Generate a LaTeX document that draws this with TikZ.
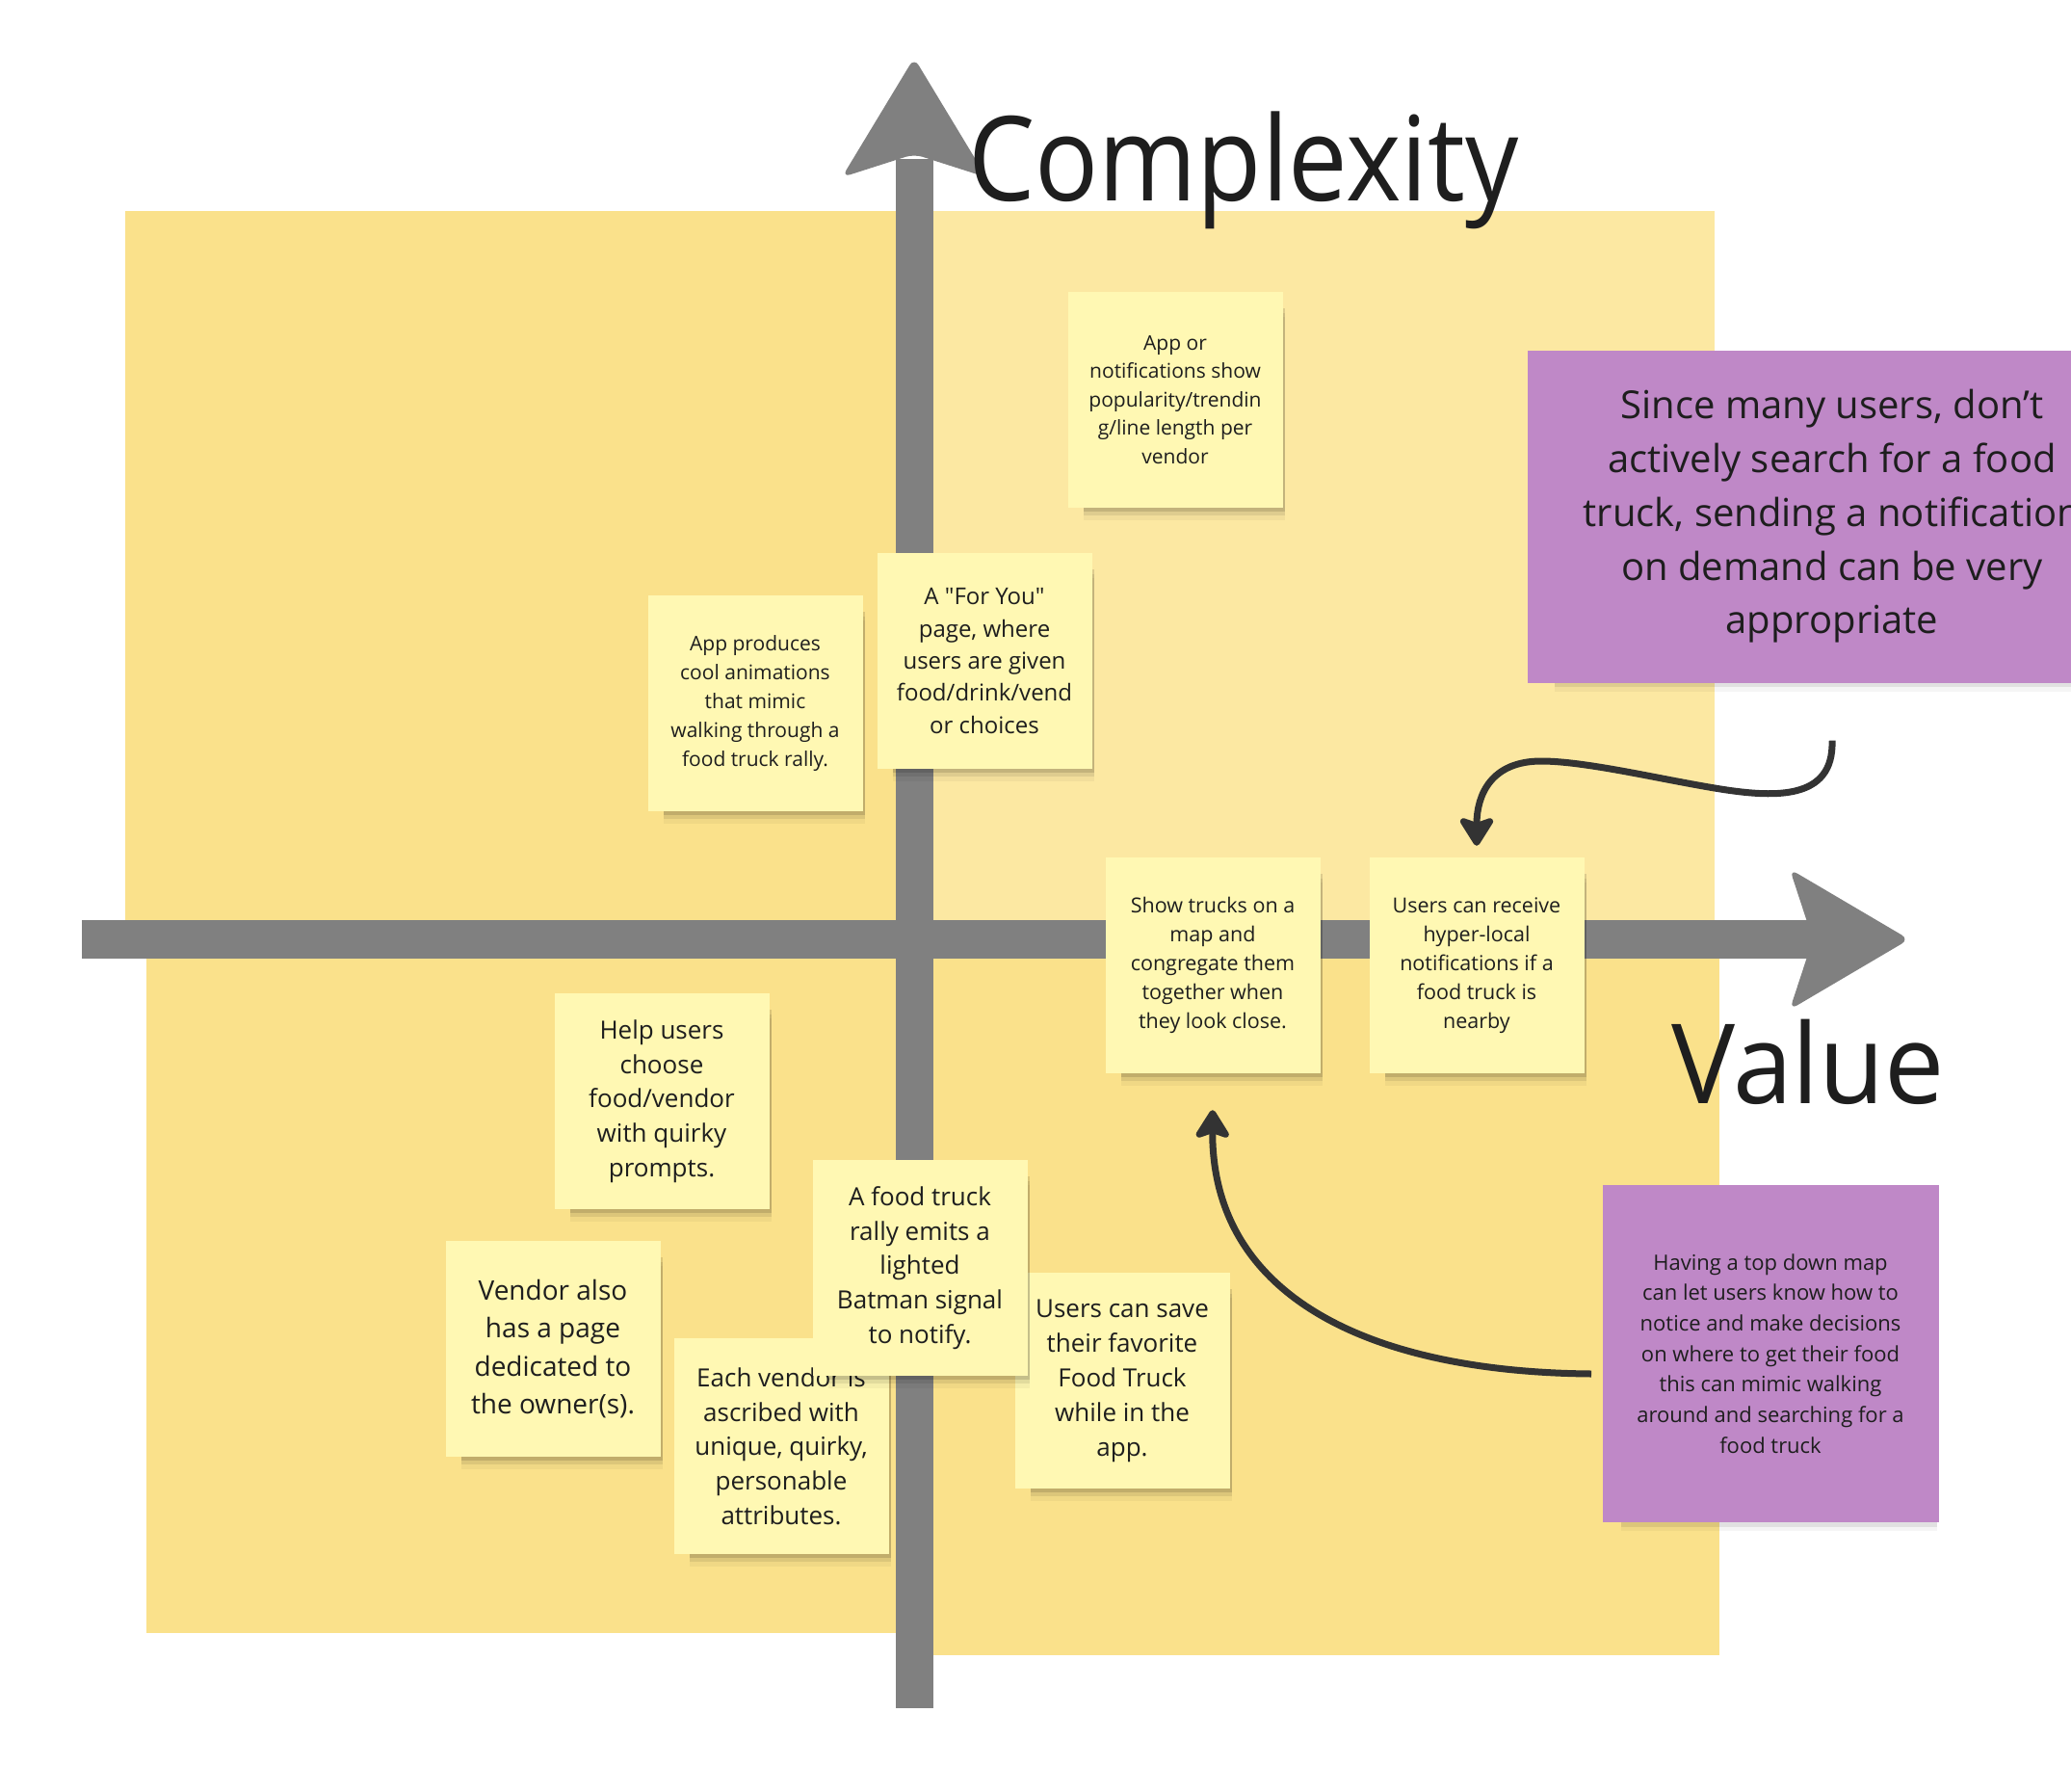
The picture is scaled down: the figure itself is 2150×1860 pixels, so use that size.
\documentclass[tikz,border=0pt]{standalone}
\usepackage{fontspec}
\setmainfont{Open Sans}[Ligatures=TeXOff]
\usetikzlibrary{arrows.meta,shadows}
\definecolor{quadA}{HTML}{FAE18B}
\definecolor{quadB}{HTML}{FCE8A2}
\definecolor{stickyY}{HTML}{FFF8B3}
\definecolor{stickyP}{HTML}{BF88C7}
\definecolor{axisG}{HTML}{808080}
\definecolor{inkD}{HTML}{1E1E1E}
\definecolor{connD}{HTML}{333333}
\newcommand\setfs[2]{\fontsize{#1}{#2}\selectfont}
\tikzset{
 nshadow/.style={
  general shadow={fill=black, opacity=0.12, shadow xshift=10pt, shadow yshift=-11pt, shadow scale=0.94},
  general shadow={fill=black, opacity=0.08, shadow xshift=10pt, shadow yshift=-16pt, shadow scale=0.94},
  general shadow={fill=black, opacity=0.04, shadow xshift=10pt, shadow yshift=-21pt, shadow scale=0.94}},
 note/.style={nshadow, fill=stickyY, inner sep=0pt, minimum width=223pt, minimum height=224pt, align=center, text=inkD},
 pnote/.style={nshadow, fill=stickyP, inner sep=0pt, align=center, text=inkD},
 conn/.style={draw=connD, line width=7pt, -{Stealth[length=34pt,width=42pt,inset=7pt,round]}},
 titletext/.style={text=inkD, inner sep=0pt, anchor=base west},
}
\begin{document}
\begin{tikzpicture}[x=1pt,y=-1pt]
\useasboundingbox (0,0) rectangle (2150,1860);
\clip (0,0) rectangle (2150,1860);
\fill[white] (0,0) rectangle (2150,1860);
% quadrants
\fill[quadA] (130,219) rectangle (950,976);
\fill[quadB] (950,219) rectangle (1780,976);
\fill[quadA] (152,976) rectangle (950,1695);
\fill[quadA] (950,976) rectangle (1785,1718);
% axes
\fill[axisG] (930,165) rectangle (969,1773);
\fill[axisG, rounded corners=9pt] (949,60) -- (1024,184) -- (949,160) -- (874,184) -- cycle;
\fill[axisG] (85,955) rectangle (1885,995);
\fill[axisG, rounded corners=9pt] (1982,975) -- (1858,1048) -- (1882,975) -- (1858,902) -- cycle;
% titles
\node[titletext, font=\setfs{122}{140}, xscale=0.9] (tcx) at (1005,208) {Complexity};
\node[titletext, font=\setfs{115}{130}, xscale=0.965] (tval) at (1735,1145) {Value};
% notes
\node[note, font=\setfs{21}{29.5}] (n1) at (1220,415) {App or\\notifications show\\popularity/trendin\\g/line length per\\vendor};
\node[note, font=\setfs{24}{33.4}] (n2) at (1022,686) {A "For You"\\page, where\\users are given\\food/drink/vend\\or choices};
\node[note, font=\setfs{21}{29.8}] (n3) at (784,730) {App produces\\cool animations\\that mimic\\walking through a\\food truck rally.};
\node[note, font=\setfs{21.5}{30}] (n4) at (1259,1002) {Show trucks on a\\map and\\congregate them\\together when\\they look close.};
\node[note, font=\setfs{21.5}{30}] (n5) at (1533,1002) {Users can receive\\hyper-local\\notifications if a\\food truck is\\nearby};
\node[note, font=\setfs{26}{35.7}] (n6) at (687,1143) {Help users\\choose\\food/vendor\\with quirky\\prompts.};
\node[note, font=\setfs{28}{39.4}] (n7) at (574,1400) {Vendor also\\has a page\\dedicated to\\the owner(s).};
\node[note, font=\setfs{26}{35.7}] (n8) at (811,1501) {Each vendor is\\ascribed with\\unique, quirky,\\personable\\attributes.};
\node[note, font=\setfs{26}{36}] (n10) at (1165,1433) {Users can save\\their favorite\\Food Truck\\while in the\\app.};
\node[note, font=\setfs{26}{35.7}] (n9) at (955,1316) {A food truck\\rally emits a\\lighted\\Batman signal\\to notify.};
\node[pnote, minimum width=632pt, minimum height=345pt, font=\setfs{40}{55.8}] (n11) at (1902,536) {Since many users, don’t\\actively search for a food\\truck, sending a notification\\on demand can be very\\appropriate};
\node[pnote, minimum width=349pt, minimum height=350pt, font=\setfs{22}{31.7}] (n12) at (1838,1405) {Having a top down map\\can let users know how to\\notice and make decisions\\on where to get their food\\this can mimic walking\\around and searching for a\\food truck};
% connectors
\coordinate (a0) at ([yshift=-60pt]n11.south);
\draw[conn, shorten >=12pt] (a0) .. controls (1904,832) and (1840,828) .. (1780,818)
  .. controls (1720,808) and (1645,790) .. (1600,790)
  .. controls (1548,790) and (1533,825) .. (n5.north);
\coordinate (b0) at (1652,1426);
\draw[conn, shorten >=38pt] (b0) .. controls (1420,1424) and (1258,1345) .. (n4.south);
\end{tikzpicture}
\end{document}
